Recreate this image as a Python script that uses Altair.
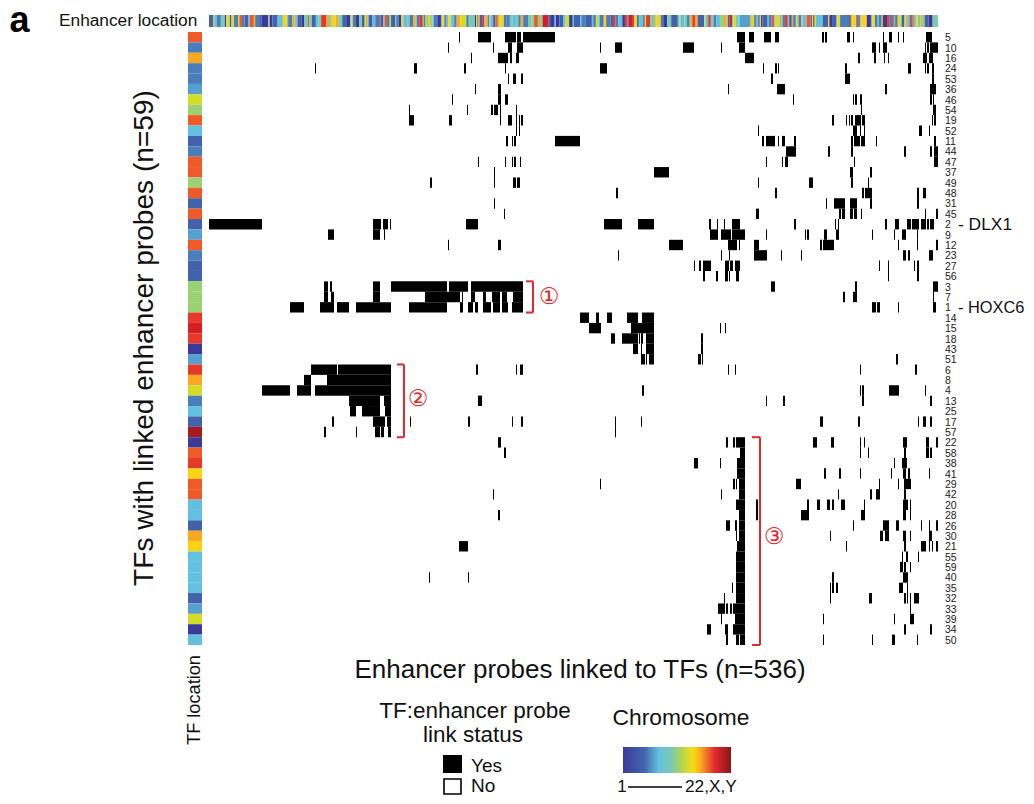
import altair as alt
import pandas as pd

FONT = "Liberation Sans"

# chromosome colour classes, from chromosome 1 (navy) to 22,X,Y (dark red)
palette = ["#3b3a9a", "#4262ab", "#4a7ebb", "#55a0cf", "#62c0e0", "#7ccab0", "#9bd073",
           "#d4dc26", "#fcd30f", "#f9a81f", "#ef5a28", "#e5392a", "#d51f27", "#a5191f"]

row_labels = [5, 10, 16, 24, 53, 36, 46, 54, 19, 52, 11, 44, 47, 37, 49, 48, 31, 45, 2, 9,
              12, 23, 27, 56, 3, 7, 1, 14, 15, 18, 43, 51, 6, 8, 4, 13, 25, 17, 57, 22,
              58, 38, 41, 29, 42, 20, 28, 26, 30, 21, 55, 59, 40, 35, 32, 33, 39, 34, 50]

row_chrom = [10, 2, 9, 2, 2, 3, 7, 6, 10, 4, 1, 2, 10, 10, 6, 10, 1, 10, 1, 3,
             10, 2, 1, 1, 6, 6, 6, 11, 12, 11, 0, 3, 11, 9, 7, 2, 4, 1, 13, 0,
             10, 11, 8, 10, 10, 4, 4, 1, 9, 8, 4, 4, 4, 4, 1, 3, 7, 0, 4]

# linked stretches per TF row, in strip units along the probe axis
row_spans = [
    [(250,251),(269,282),(296,307),(308,312),(314,346),(528,536),(540,545),(555,562),(566,570),(613,615),(616,618),(638,641),(644,645),(674,675),(680,683),(689,690),(694,695),(717,723)],
    [(239,240),(284,285),(299,303),(308,314),(391,392),(406,413),(474,485),(512,513),(530,536),(663,667),(670,671),(674,678),(716,717),(718,720),(721,729)],
    [(262,263),(289,299),(301,303),(307,310),(536,545),(649,651),(665,667),(675,676),(679,680),(714,718),(720,724)],
    [(106,107),(205,208),(255,257),(296,297),(391,398),(554,555),(566,568),(569,570),(636,638),(699,702),(716,717),(718,720),(723,725)],
    [(299,300),(304,307),(312,314),(562,564),(636,641),(723,725)],
    [(266,267),(289,292),(519,520),(568,576),(676,678),(721,727)],
    [(243,244),(289,292),(296,299),(584,585),(644,645),(646,648),(651,653),(721,723),(724,725)],
    [(200,201),(258,259),(282,284),(285,289),(291,292),(307,308),(652,653),(724,727)],
    [(200,205),(240,243),(291,292),(299,303),(307,308),(310,311),(312,314),(623,625),(637,638),(640,641),(642,644),(646,652),(653,656),(723,724),(725,727)],
    [(307,308),(310,311),(549,550),(644,648),(651,652),(655,656),(710,712),(712,713),(720,721)],
    [(297,299),(303,304),(305,307),(346,371),(553,555),(557,566),(569,570),(573,576),(585,587),(642,644),(645,651),(652,656),(667,668),(725,727)],
    [(577,587),(619,621),(642,644),(695,697),(721,723),(725,729)],
    [(269,270),(296,297),(303,304),(305,307),(311,312),(557,558),(573,574),(576,579),(645,646),(725,729)],
    [(285,286),(445,460),(641,644),(661,663)],
    [(221,223),(285,286),(304,307),(308,311),(549,550),(600,604),(642,644),(659,660)],
    [(407,409),(566,568),(653,655),(656,663),(708,710),(714,717)],
    [(285,286),(617,618),(625,636),(641,648),(661,663),(708,710)],
    [(295,296),(547,550),(630,632),(633,636),(641,644),(645,648),(652,653),(716,717),(727,729)],
    [(0,53),(164,172),(174,179),(181,182),(257,269),(395,413),(429,445),(500,502),(508,509),(515,516),(523,531),(585,587),(626,627),(629,630),(676,678),(686,690),(698,702),(703,710),(712,717),(718,720),(721,725)],
    [(119,125),(164,171),(175,176),(501,509),(512,522),(523,536),(557,558),(596,597),(598,600),(615,618),(627,630),(663,664),(685,686),(693,697),(708,709)],
    [(239,240),(289,292),(460,474),(519,528),(530,531),(545,550),(611,613),(614,625),(689,690),(708,709),(727,729)],
    [(409,410),(512,513),(520,521),(545,558),(572,573),(592,593),(694,697),(699,701),(720,724)],
    [(485,486),(490,492),(494,502),(516,520),(521,524),(526,531),(670,671),(679,680),(705,706),(708,710)],
    [(494,496),(507,509),(516,519),(520,521),(527,530),(679,680),(708,710)],
    [(115,119),(121,123),(164,171),(182,238),(240,259),(262,314),(562,566),(646,648),(724,729)],
    [(115,119),(122,125),(164,171),(216,251),(253,254),(262,266),(274,277),(283,291),(293,298),(304,314),(634,636),(644,648),(724,725)],
    [(81,95),(111,125),(128,140),(147,182),(200,238),(251,254),(259,264),(266,269),(274,282),(284,291),(293,299),(303,314),(663,667),(668,671),(689,690),(724,727)],
    [(371,380),(387,390),(398,403),(418,429),(433,445)],
    [(380,392),(422,445),(511,512),(516,517)],
    [(402,406),(413,429),(430,431),(432,434),(437,445),(492,494)],
    [(424,429),(432,433),(437,445),(492,494)],
    [(432,436),(437,438),(440,445),(489,492),(493,494),(687,689)],
    [(102,128),(129,182),(267,269),(307,308),(311,314),(519,520),(526,527),(651,652),(706,708)],
    [(95,102),(118,182)],
    [(53,81),(88,102),(106,182),(433,435),(651,652),(653,655),(680,690),(716,717)],
    [(140,171),(175,182),(269,273),(557,558),(574,576),(653,655),(721,723)],
    [(141,147),(153,171),(176,182)],
    [(123,125),(164,176),(178,182),(201,202),(259,261),(303,304),(312,314),(406,407),(432,433),(611,614),(649,651),(709,710),(714,717),(721,723)],
    [(115,117),(147,148),(166,171),(172,175),(179,182),(406,407)],
    [(289,292),(517,519),(524,526),(527,536),(604,608),(622,625),(651,652),(655,656),(694,698),(717,720),(727,729)],
    [(295,297),(531,536),(651,652),(659,660),(695,697),(717,720),(721,723)],
    [(485,489),(511,512),(528,536),(685,686),(693,698)],
    [(528,536),(615,617),(630,632),(651,652),(682,683),(694,697),(699,701),(720,721)],
    [(391,392),(524,526),(527,528),(530,536),(587,592),(670,671),(689,690),(695,702)],
    [(284,285),(512,513),(530,536),(629,630),(661,663),(667,671),(695,697)],
    [(527,536),(547,549),(598,600),(608,611),(618,621),(623,625),(632,636),(655,656),(694,699),(701,702)],
    [(289,291),(530,536),(547,549),(592,600),(652,656),(694,697),(701,702)],
    [(517,521),(526,528),(530,536),(644,645),(674,680),(687,690),(712,713),(720,721),(727,729)],
    [(527,528),(530,536),(621,622),(671,674),(676,680),(694,697),(701,702),(720,723)],
    [(250,259),(528,536),(637,638),(695,697),(712,717),(720,721),(723,724),(727,729)],
    [(527,536),(693,694),(697,699),(709,710)],
    [(527,536),(691,694),(695,697),(701,702)],
    [(220,221),(259,260),(527,536),(623,625),(694,699)],
    [(523,524),(527,536),(621,622),(623,625),(627,629),(690,694),(698,699)],
    [(515,516),(527,536),(621,622),(660,663),(695,697),(698,699),(701,702),(705,710)],
    [(509,516),(517,519),(521,523),(524,536),(701,702)],
    [(512,513),(526,536),(614,615),(685,686),(701,705)],
    [(498,502),(516,519),(524,536),(695,697),(721,723)],
    [(517,519),(527,530),(531,536),(614,615),(663,664),(683,686),(708,709)],
]

# enhancer location strip: (colour class, run length), four stretches of the axis
strip_parts = [
    [(1,3),(9,1),(4,2),(2,3),(5,3),(0,1),(8,1),(5,1),(7,1),(0,1),(7,2),(2,3),(7,1),(10,2),(2,2),(1,3),(4,1),(10,3),(9,1),(2,3),(1,2),(0,5),(6,1),(0,2),(1,4),(4,4),(8,3),(5,1),(2,3),(9,2),(5,2),(1,3),(0,2),(5,3),(10,1),(5,2),(1,3),(4,2),(5,2),(11,4),(9,2),(5,2),(8,3),(9,2),(5,3),(1,3),(0,3),(5,1),(7,1),(2,2),(0,3),(5,2),(1,2),(7,1),(9,1),(5,1),(1,3),(4,2),(2,3),(11,1),(1,2),(4,1),(10,2),(2,2),(7,1),(1,3)],
    [(5,1),(2,2),(0,2),(7,1),(9,1),(4,3),(5,2),(2,3),(9,2),(5,1),(2,2),(11,3),(5,1),(2,1),(6,3),(8,1),(6,2),(4,1),(2,3),(0,3),(4,1),(8,2),(0,1),(4,2),(8,2),(5,1),(4,2),(2,2),(9,3),(7,5),(2,2),(5,5),(0,1),(8,1),(2,1),(9,1),(1,2),(11,2),(4,1),(9,2),(2,1),(5,1),(4,2),(2,1),(0,1),(10,2),(5,1),(8,4),(2,2),(2,3),(5,2),(4,3),(5,2),(2,2),(9,2),(2,4),(5,3),(6,2),(10,2),(0,1),(9,2),(5,2),(12,5),(1,2),(0,3),(4,1),(0,3),(1,3),(4,2),(7,3),(0,3),(4,1),(1,5)],
    [(4,1),(2,3),(1,5),(4,1),(2,2),(7,2),(4,1),(2,3),(8,2),(0,1),(2,2),(1,2),(11,2),(2,2),(4,3),(0,2),(11,2),(2,1),(12,3),(11,1),(8,2),(2,2),(4,3),(0,1),(8,1),(11,3),(5,3),(9,1),(5,1),(8,3),(2,2),(0,3),(5,3),(1,5),(4,1),(7,1),(4,3),(5,2),(2,2),(6,1),(9,1),(11,2),(9,2),(1,5),(7,1),(4,2),(11,2),(5,2),(2,2),(4,3),(6,3),(9,2),(5,1),(1,1),(12,2),(5,1),(7,2),(5,2),(4,1),(3,8),(9,1),(7,2),(0,1),(4,2),(0,1),(8,1),(0,1),(1,2)],
    [(1,2),(4,1),(2,2),(10,2),(5,1),(7,3),(4,1),(9,1),(2,2),(11,2),(5,1),(1,2),(9,1),(2,2),(8,1),(5,1),(2,2),(9,1),(4,3),(10,3),(1,1),(7,1),(0,1),(8,1),(4,5),(1,4),(8,1),(0,2),(1,3),(4,1),(8,2),(2,6),(1,2),(9,1),(8,3),(2,2),(10,1),(5,1),(8,3),(9,1),(0,3),(4,1),(8,2),(2,2),(4,1),(2,2),(9,1),(0,3),(11,2),(2,2),(13,1),(5,1),(2,2),(8,2),(5,1),(1,2),(7,1),(9,1),(4,2),(11,1),(1,1),(10,1),(5,2),(8,1),(5,2),(9,1),(6,2),(1,3),(0,3),(5,4)],
]
strip_lengths = [186, 185, 185, 173]

bracket_x = [324, 195, 551]
bracket_first = [24, 32, 39]
bracket_last = [27, 39, 59]
bracket_tick = [7, 7, 8]

# ---------------------------------------------------------------- tables
cells = pd.DataFrame(
    [{"a": a, "b": b, "r": i, "r2": i + 1} for i, spans in enumerate(row_spans) for a, b in spans]
)
rows = pd.DataFrame({
    "r": range(59),
    "r2": [i + 1 for i in range(59)],
    "mid": [i + 0.5 for i in range(59)],
    "label": [str(v) for v in row_labels],
    "chrom": row_chrom,
})
strip_rows = []
start = 0.0
for part, total in zip(strip_parts, strip_lengths):
    k = total / sum(w for _, w in part)
    for code, w in part:
        strip_rows.append({"a": start, "b": start + w * k, "chrom": code})
        start += w * k
strip = pd.DataFrame(strip_rows)
brackets = pd.DataFrame({"x": bracket_x, "r0": bracket_first, "r1": bracket_last, "t": bracket_tick})
brackets["xl"] = brackets["x"] - brackets["t"]

# ---------------------------------------------------------------- scales
xs = alt.Scale(domain=[0, 729], range=[201, 930])
ys = alt.Scale(domain=[0, 59], range=[24, 637])
cs = alt.Scale(domain=list(range(14)), range=palette)
X = lambda f: alt.X(f, type="quantitative", scale=xs, axis=None)
Y = lambda f: alt.Y(f, type="quantitative", scale=ys, axis=None)
C = alt.Color("chrom:O", scale=cs, legend=None)


def text(s, px, py, size, align="center", angle=0, weight="normal", color="#111111", font=FONT):
    return alt.Chart(pd.DataFrame({"t": [s]})).mark_text(
        font=font, fontSize=size, align=align, baseline="middle", angle=angle,
        fontWeight=weight, color=color,
    ).encode(text="t:N", x=alt.value(px - 8), y=alt.value(py - 8))


def box(px0, px1, py0, py1, **kw):
    return alt.Chart(pd.DataFrame({"t": [0]})).mark_rect(**kw).encode(
        x=alt.value(px0 - 8), x2=alt.value(px1 - 8), y=alt.value(py0 - 8), y2=alt.value(py1 - 8)
    )


links = alt.Chart(cells).mark_rect(color="black").encode(x=X("a"), x2="b:Q", y=Y("r"), y2="r2:Q")
left_strip = alt.Chart(rows).mark_rect().encode(
    x=alt.value(188 - 8), x2=alt.value(202 - 8), y=Y("r"), y2="r2:Q", color=C)
top_strip = alt.Chart(strip).mark_rect().encode(
    x=X("a"), x2="b:Q", y=alt.value(15 - 8), y2=alt.value(27 - 8), color=C)
row_text = alt.Chart(rows).mark_text(font=FONT, fontSize=10.5, align="left", baseline="middle",
                                     color="#222222", dy=1).encode(
    x=alt.value(945 - 8), y=Y("mid"), text="label:N")

red = "#e1282f"
b_v = alt.Chart(brackets).mark_rule(color=red, strokeWidth=2).encode(x=X("x"), y=Y("r0"), y2="r1:Q")
b_t = alt.Chart(brackets).mark_rule(color=red, strokeWidth=2).encode(x=X("xl"), x2="x:Q", y=Y("r0"))
b_b = alt.Chart(brackets).mark_rule(color=red, strokeWidth=2).encode(x=X("xl"), x2="x:Q", y=Y("r1"))

gradient = {
    "gradient": "linear", "x1": 0, "x2": 1, "y1": 0, "y2": 0,
    "stops": [
        {"offset": 0.0, "color": "#3b3a9a"}, {"offset": 0.2, "color": "#4465ae"},
        {"offset": 0.33, "color": "#62c0e0"}, {"offset": 0.45, "color": "#7ccab0"},
        {"offset": 0.55, "color": "#b6d64a"}, {"offset": 0.65, "color": "#f7dc15"},
        {"offset": 0.72, "color": "#f9a81f"}, {"offset": 0.85, "color": "#e1282f"},
        {"offset": 1.0, "color": "#8c1518"},
    ],
}

layers = [
    top_strip, left_strip, links, row_text, b_v, b_t, b_b,
    text("a", 19.5, 21, 36, weight="bold", color="black"),
    text("Enhancer location", 59, 20.5, 17.3, align="left"),
    text("TFs with linked enhancer probes (n=59)", 145, 338, 28.1, angle=270),
    text("TF location", 195, 700, 18.2, angle=270),
    text("- DLX1", 958, 225, 17.4, align="left"),
    text("- HOXC6", 958, 308, 16.4, align="left"),
    text("①", 549, 297, 23, color=red, font="DejaVu Sans"),
    text("②", 418, 399, 23, color=red, font="DejaVu Sans"),
    text("③", 774, 537, 23, color=red, font="DejaVu Sans"),
    text("Enhancer probes linked to TFs (n=536)", 580, 670, 26),
    text("TF:enhancer probe", 475, 711, 22.5),
    text("link status", 473, 735, 22.5),
    text("Chromosome", 681, 718, 22.8),
    box(443, 462, 755, 773, color="black"),
    box(444, 461, 779, 794, fill="white", stroke="black", strokeWidth=1.6),
    text("Yes", 471, 766, 19, align="left"),
    text("No", 471, 786, 19, align="left"),
    box(623, 731, 747, 773, color=gradient),
    text("1", 622, 787, 17),
    alt.Chart(pd.DataFrame({"t": [0]})).mark_rule(color="black", strokeWidth=1.6).encode(
        x=alt.value(628 - 8), x2=alt.value(682 - 8), y=alt.value(787 - 8)),
    text("22,X,Y", 685, 787, 17.3, align="left"),
]

chart = alt.layer(*layers, data=alt.Data(values=[{}])).properties(
    width=1018, height=788, padding=0,
    autosize=alt.AutoSizeParams(type="none"),
).configure_view(stroke=None)

chart.save("out.html", embed_options={"renderer": "svg", "actions": False})
